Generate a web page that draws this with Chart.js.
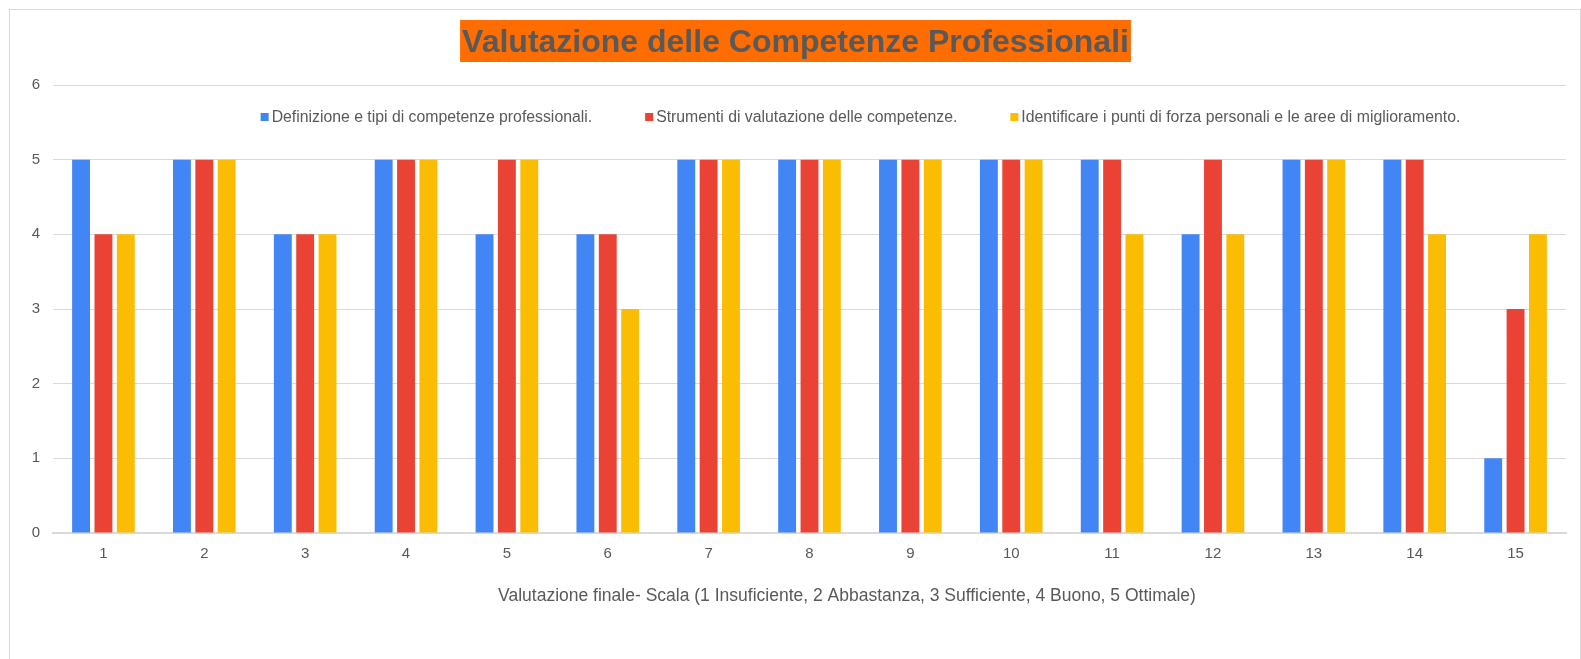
<!DOCTYPE html>
<html>
<head>
<meta charset="utf-8">
<script src="https://cdn.jsdelivr.net/npm/chart.js@4.4.1/dist/chart.umd.min.js"></script>
<style>
html,body{margin:0;padding:0;background:#fff;overflow:hidden;width:1581px;height:659px}
#wrap{position:absolute;left:0;top:0;width:1581px;height:659px}
#frame{position:absolute;left:9px;top:9px;width:1570px;height:700px;border:1px solid #d9d9d9;pointer-events:none}
</style>
</head>
<body>
<div id="wrap"><canvas id="c" width="1581" height="659"></canvas></div>
<div id="frame"></div>
<script>
// ---- data ----
const categories = ['1','2','3','4','5','6','7','8','9','10','11','12','13','14','15'];
const seriesNames = [
  'Definizione e tipi di competenze professionali.',
  'Strumenti di valutazione delle competenze.',
  'Identificare i punti di forza personali e le aree di miglioramento.'
];
const definizione  = [5,5,4,5,4,4,5,5,5,5,5,4,5,5,1];
const strumenti    = [4,5,4,5,5,4,5,5,5,5,5,5,5,5,3];
const identificare = [4,5,4,5,5,3,5,5,5,5,4,4,5,4,4];
const yTickValues  = [0,1,2,3,4,5,6];
const chartTitle = 'Valutazione delle Competenze Professionali';
const xAxisTitle = 'Valutazione finale- Scala (1 Insuficiente, 2 Abbastanza, 3 Sufficiente, 4 Buono, 5 Ottimale)';

// ---- styles ----
const seriesColors = ['#4285F4','#EA4335','#FBBC04'];
const textColor = '#595959';
const FONT = '"Liberation Sans", Arial, sans-serif';

const decor = {
  id: 'decor',
  beforeDraw(chart) {
    const ctx = chart.ctx;
    ctx.save();
    ctx.font = 'bold 32px ' + FONT;
    const w = ctx.measureText(chartTitle).width;
    const cx = 795.5;
    ctx.fillStyle = '#FF6D01';
    ctx.fillRect(cx - w / 2 - 2, 20, w + 4, 42);
    ctx.fillStyle = textColor;
    ctx.textAlign = 'center';
    ctx.textBaseline = 'alphabetic';
    ctx.fillText(chartTitle, cx, 52);
    ctx.restore();
  },
  afterDraw(chart) {
    const ctx = chart.ctx;
    ctx.save();
    // legend
    ctx.font = '15.8px ' + FONT;
    ctx.textBaseline = 'alphabetic';
    ctx.textAlign = 'left';
    const box = 8, gapBoxText = 3, gapItems = 53;
    const ds = chart.data.datasets;
    const widths = ds.map(d => ctx.measureText(d.label).width);
    let total = 0;
    widths.forEach((tw, i) => { total += box + gapBoxText + tw + (i < widths.length - 1 ? gapItems : 0); });
    let x = 860.5 - total / 2;
    ds.forEach((d, i) => {
      ctx.fillStyle = d.backgroundColor;
      ctx.fillRect(x, 113, box, box);
      ctx.fillStyle = textColor;
      ctx.fillText(d.label, x + box + gapBoxText, 121.5);
      x += box + gapBoxText + widths[i] + gapItems;
    });
    // x axis title
    ctx.font = '17.5px ' + FONT;
    ctx.textAlign = 'center';
    ctx.fillText(xAxisTitle, 847, 601);
    ctx.restore();
  }
};

new Chart(document.getElementById('c'), {
  type: 'bar',
  data: {
    labels: categories,
    datasets: [
      { label: seriesNames[0], data: definizione,  backgroundColor: seriesColors[0] },
      { label: seriesNames[1], data: strumenti,    backgroundColor: seriesColors[1] },
      { label: seriesNames[2], data: identificare, backgroundColor: seriesColors[2] }
    ]
  },
  options: {
    responsive: false,
    animation: false,
    devicePixelRatio: 1,
    categoryPercentage: 0.665,
    barPercentage: 0.8,
    layout: { padding: { top: 85, left: 0, right: 15, bottom: 0 } },
    plugins: {
      legend: { display: false },
      title: { display: false, text: chartTitle },
      tooltip: { enabled: false }
    },
    scales: {
      x: {
        grid: { display: false, drawTicks: false },
        border: { display: true, color: '#d9d9d9', width: 2 },
        ticks: { color: textColor, font: { family: FONT, size: 15 }, padding: 12 },
        title: { display: false, text: xAxisTitle },
        afterFit(scale) { scale.height = 126; }
      },
      y: {
        min: 0, max: 6,
        grid: { color: '#dadada', drawTicks: false },
        border: { display: false },
        ticks: {
          stepSize: 1, color: textColor, font: { family: FONT, size: 15 }, padding: 13,
          callback: (v) => yTickValues.includes(v) ? String(v) : ''
        },
        afterFit(scale) { scale.width = 53; }
      }
    }
  },
  plugins: [decor]
});
</script>
</body>
</html>
